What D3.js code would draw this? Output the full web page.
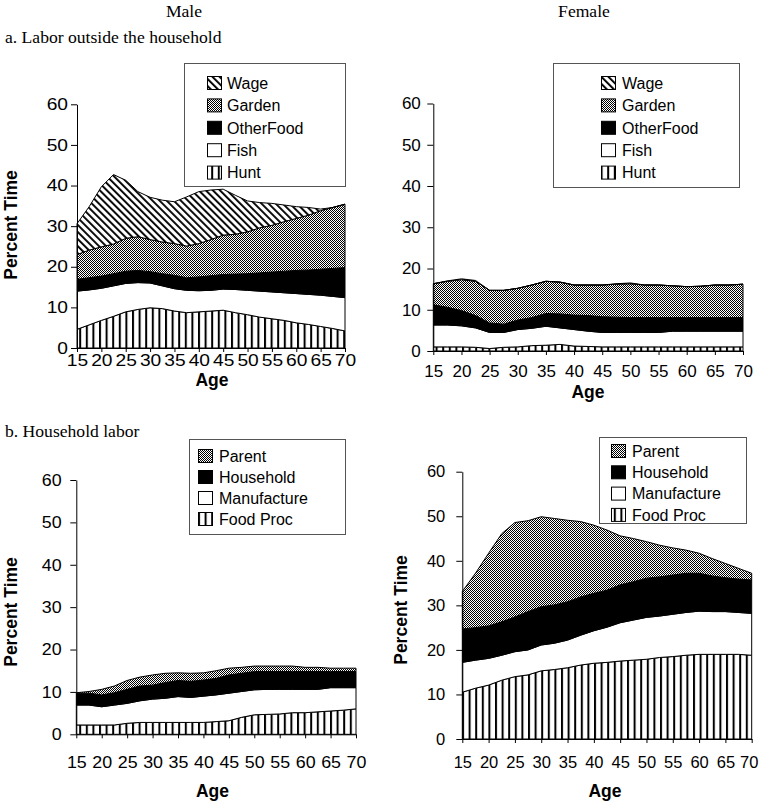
<!DOCTYPE html>
<html><head><meta charset="utf-8">
<script src="https://cdn.jsdelivr.net/npm/d3@7"></script>
<style>body{margin:0;background:#fff} svg{display:block}</style>
</head><body><svg id="c" width="760" height="803"></svg>
<script>
// ---- data ----
const ages = [15,17.5,20,22.5,25,27.5,30,32.5,35,37.5,40,42.5,45,47.5,50,52.5,55,57.5,60,62.5,65,67.5,70];
const xTicks = [15,20,25,30,35,40,45,50,55,60,65,70];
const yTicks = [0,10,20,30,40,50,60];

const outsideKeys = ["Hunt","Fish","OtherFood","Garden","Wage"];
const householdKeys = ["Food Proc","Manufacture","Household","Parent"];

const maleHunt      = [4.6,5.7,6.8,7.8,8.9,9.5,9.9,9.7,9.1,8.7,8.9,9.1,9.3,8.7,8.2,7.6,7.2,6.8,6.2,5.8,5.3,4.8,4.2];
const maleFish      = [9.4,8.6,7.9,7.5,7.0,6.6,6.1,5.6,5.5,5.5,5.2,5.1,5.2,5.7,6.0,6.4,6.6,6.8,7.2,7.4,7.7,7.9,8.2];
const maleOtherFood = [2.9,3.0,3.0,3.0,3.0,3.0,2.8,3.0,3.3,3.1,3.4,3.6,3.6,3.8,4.1,4.5,4.9,5.3,5.7,6.0,6.4,6.9,7.4];
const maleGarden    = [6.1,6.8,7.2,7.3,8.1,8.3,7.9,7.8,7.8,7.8,8.2,8.9,9.7,9.8,10.3,11.1,11.5,12.2,12.8,13.5,14.4,15.0,15.6];
const maleWage      = [7.6,10.7,14.8,17.1,14.3,11.1,10.4,10.3,10.3,12.1,12.8,12.2,11.3,9.6,7.6,6.2,5.4,4.1,2.9,1.9,0.4,0,0];

const femaleHunt      = [1.0,1.0,1.0,0.9,0.6,0.9,1.0,1.3,1.4,1.6,1.2,1.1,1.0,1.0,1.0,1.0,1.0,1.0,1.0,1.0,1.0,1.0,1.0];
const femaleFish      = [5.3,5.3,5.1,4.7,3.9,3.6,4.2,4.2,4.6,4.0,4.0,3.7,3.5,3.5,3.5,3.5,3.5,3.8,3.8,3.8,3.8,3.8,3.8];
const femaleOtherFood = [4.9,4.3,3.7,3.0,2.3,2.0,2.3,2.6,3.1,3.4,3.5,3.8,3.8,3.7,3.6,3.6,3.6,3.3,3.3,3.3,3.3,3.3,3.3];
const femaleGarden    = [5.1,6.3,7.5,8.3,7.9,8.2,7.7,7.9,7.8,7.7,7.3,7.4,7.7,8.0,8.2,7.9,7.9,7.7,7.5,7.6,7.9,7.9,8.1];
const femaleWage      = [0,0.1,0.2,0.2,0,0,0,0,0,0,0,0,0,0.1,0.2,0,0,0,0,0,0,0,0];

const maleFoodProc    = [2.2,2.2,2.2,2.2,2.6,2.8,2.8,2.8,2.8,2.8,2.8,3.0,3.2,4.0,4.6,4.7,4.8,5.1,5.1,5.3,5.5,5.7,6.0];
const maleManufacture = [4.7,4.7,4.3,4.7,4.7,5.1,5.5,5.7,6.1,5.9,6.2,6.3,6.5,6.1,5.9,5.9,5.8,5.5,5.5,5.3,5.5,5.3,5.0];
const maleHousehold   = [2.8,2.8,2.8,2.9,3.3,3.5,3.3,3.7,3.8,3.8,3.8,3.9,4.3,4.3,4.3,4.2,4.2,4.2,4.2,4.2,3.8,3.8,3.8];
const maleParent      = [0.1,0.4,1.3,1.6,2.1,2.1,2.4,2.2,1.8,1.9,1.7,1.8,1.6,1.4,1.3,1.3,1.3,1.3,1.0,1.0,0.8,0.8,0.8];

const femaleFoodProc    = [10.5,11.4,12.1,13.2,14.0,14.4,15.3,15.6,16.0,16.6,17.0,17.2,17.5,17.7,17.9,18.3,18.5,18.8,19.0,19.0,19.0,19.0,18.8];
const femaleManufacture = [6.7,6.3,6.0,5.6,5.6,5.6,5.8,5.9,6.2,6.7,7.3,7.9,8.6,9.0,9.4,9.3,9.5,9.6,9.7,9.6,9.6,9.4,9.4];
const femaleHousehold   = [7.5,7.3,7.3,7.5,7.8,8.6,8.6,8.6,8.6,8.6,8.4,8.3,8.5,8.6,8.8,8.8,8.8,8.8,8.5,8.0,7.6,7.5,7.5];
const femaleParent      = [8.4,12.2,16.3,19.8,21.2,20.4,20.2,19.4,18.3,16.9,15.3,13.5,11.0,9.7,8.2,7.1,6.1,5.2,4.5,3.9,3.2,2.4,1.5];

// ---- rendering ----
const svg = d3.select("#c");
const SANS = "'Liberation Sans', Arial, Helvetica, sans-serif";
const SERIF = "'Liberation Serif', 'Times New Roman', serif";
const defs = svg.append("defs");

// patterns
const pW = defs.append("pattern").attr("id","pWage").attr("patternUnits","userSpaceOnUse")
  .attr("width",5).attr("height",5).attr("patternTransform","rotate(-45)");
pW.append("rect").attr("width",5).attr("height",5).attr("fill","#fff");
pW.append("rect").attr("width",1.9).attr("height",5).attr("fill","#000");

const pC = defs.append("pattern").attr("id","pCheck").attr("patternUnits","userSpaceOnUse")
  .attr("width",2).attr("height",2);
pC.append("rect").attr("width",2).attr("height",2).attr("fill","#fff");
pC.append("rect").attr("width",1).attr("height",1).attr("fill","#000");
pC.append("rect").attr("x",1).attr("y",1).attr("width",1).attr("height",1).attr("fill","#000");

const pV = defs.append("pattern").attr("id","pVert").attr("patternUnits","userSpaceOnUse")
  .attr("width",6.6).attr("height",10);
pV.append("rect").attr("width",6.6).attr("height",10).attr("fill","#fff");
pV.append("rect").attr("width",2).attr("height",10).attr("fill","#000");

const fills = {
  "Wage":"url(#pWage)", "Garden":"url(#pCheck)", "OtherFood":"#000", "Fish":"#fff", "Hunt":"url(#pVert)",
  "Parent":"url(#pCheck)", "Household":"#000", "Manufacture":"#fff", "Food Proc":"url(#pVert)"
};

// titles
svg.append("text").attr("x",184).attr("y",17).attr("text-anchor","middle")
  .attr("font-family",SERIF).attr("font-size",17.6).text("Male");
svg.append("text").attr("x",584).attr("y",17).attr("text-anchor","middle")
  .attr("font-family",SERIF).attr("font-size",17.6).text("Female");
svg.append("text").attr("x",5).attr("y",43)
  .attr("font-family",SERIF).attr("font-size",17.6).text("a. Labor outside the household");
svg.append("text").attr("x",5).attr("y",437)
  .attr("font-family",SERIF).attr("font-size",17.6).text("b. Household labor");

const panels = [
  { keys: outsideKeys, series: [maleHunt,maleFish,maleOtherFood,maleGarden,maleWage],
    x0:77, x1:345, yTop:104.3, yBot:348, xPad:2.6, yPad:3, fs:16, sx:1.2, lastDx:0, ylab:{x:17,y:225}, age:{x:212,y:386},
    leg:{x:184,y:63,w:161,h:123,sx:207,tx:227,ty0:83,dy:22.4} },
  { keys: outsideKeys, series: [femaleHunt,femaleFish,femaleOtherFood,femaleGarden,femaleWage],
    x0:433.3, x1:743, yTop:103.5, yBot:351, xPad:10, yPad:6.5, fs:17, sx:1, lastDx:0, ylab:null, age:{x:588,y:397.5},
    leg:{x:553,y:63,w:186,h:124,sx:601,tx:622,ty0:83,dy:22.4} },
  { keys: householdKeys, series: [maleFoodProc,maleManufacture,maleHousehold,maleParent],
    x0:76.3, x1:356, yTop:480, yBot:734.3, xPad:18, yPad:8.6, fs:17, sx:1.05, lastDx:0, ylab:{x:17,y:612}, age:{x:212.5,y:797},
    leg:{x:189,y:439,w:156,h:95,sx:198,tx:219,ty0:456,dy:21} },
  { keys: householdKeys, series: [femaleFoodProc,femaleManufacture,femaleHousehold,femaleParent],
    x0:462.3, x1:751.7, yTop:471.7, yBot:739, xPad:13.3, yPad:11, fs:16.5, sx:1.0, lastDx:-3, ylab:{x:407,y:610}, age:{x:605,y:797},
    leg:{x:599,y:437,w:147,h:86,sx:611,tx:632,ty0:451,dy:21.3} }
];

panels.forEach(p => {
  const g = svg.append("g");
  const x = d3.scaleLinear().domain([15,70]).range([p.x0,p.x1]);
  const y = d3.scaleLinear().domain([0,60]).range([p.yBot,p.yTop]);
  const rows = ages.map((a,i) => {
    const r = {age:a};
    p.keys.forEach((k,j) => r[k] = p.series[j][i]);
    return r;
  });
  const stacked = d3.stack().keys(p.keys)(rows);
  const area = d3.area().x(d => x(d.data.age)).y0(d => y(d[0])).y1(d => y(d[1]));
  g.selectAll("path.layer").data(stacked).join("path").attr("class","layer")
    .attr("d",area).attr("fill",d => fills[d.key])
    .attr("stroke","#000").attr("stroke-width",1).attr("stroke-linejoin","round");

  // axes
  const ax = g.append("g").attr("transform",`translate(0,${p.yBot})`)
    .call(d3.axisBottom(x).tickValues(xTicks).tickSize(4).tickSizeOuter(0).tickPadding(p.xPad));
  const ay = g.append("g").attr("transform",`translate(${p.x0},0)`)
    .call(d3.axisLeft(y).tickValues(yTicks).tickSize(6).tickSizeOuter(0).tickPadding(p.yPad));
  [ax,ay].forEach(a => {
    a.selectAll("text").attr("font-family",SANS).attr("font-size",p.fs).attr("fill","#000")
      .attr("transform",`scale(${p.sx},1)`);
    a.selectAll("line").attr("stroke","#000");
    a.select(".domain").attr("stroke","#000");
  });
  ay.selectAll("text").attr("x", -(6 + p.yPad) / p.sx);
  ax.selectAll("text").filter(d => d === 70).attr("dx", p.lastDx);

  if (p.ylab) {
    g.append("text").attr("transform",`translate(${p.ylab.x},${p.ylab.y}) rotate(-90)`)
      .attr("text-anchor","middle").attr("font-family",SANS).attr("font-weight","bold")
      .attr("font-size",17.5).text("Percent Time");
  }
  g.append("text").attr("x",p.age.x).attr("y",p.age.y).attr("text-anchor","middle")
    .attr("font-family",SANS).attr("font-weight","bold").attr("font-size",17.5).text("Age");

  // legend
  const L = p.leg;
  g.append("rect").attr("x",L.x+0.5).attr("y",L.y+0.5).attr("width",L.w).attr("height",L.h)
    .attr("fill","#fff").attr("stroke","#555").attr("stroke-width",1);
  const legKeys = p.keys.slice().reverse();
  legKeys.forEach((k,i) => {
    const cy = L.ty0 + i*L.dy;
    g.append("rect").attr("x",L.sx+0.5).attr("y",cy-6.5).attr("width",14).attr("height",13)
      .attr("fill",fills[k]).attr("stroke","#000").attr("stroke-width",1);
    g.append("text").attr("x",L.tx).attr("y",cy).attr("dy","0.36em")
      .attr("font-family",SANS).attr("font-size",16).text(k);
  });
});
</script>
</body></html>
